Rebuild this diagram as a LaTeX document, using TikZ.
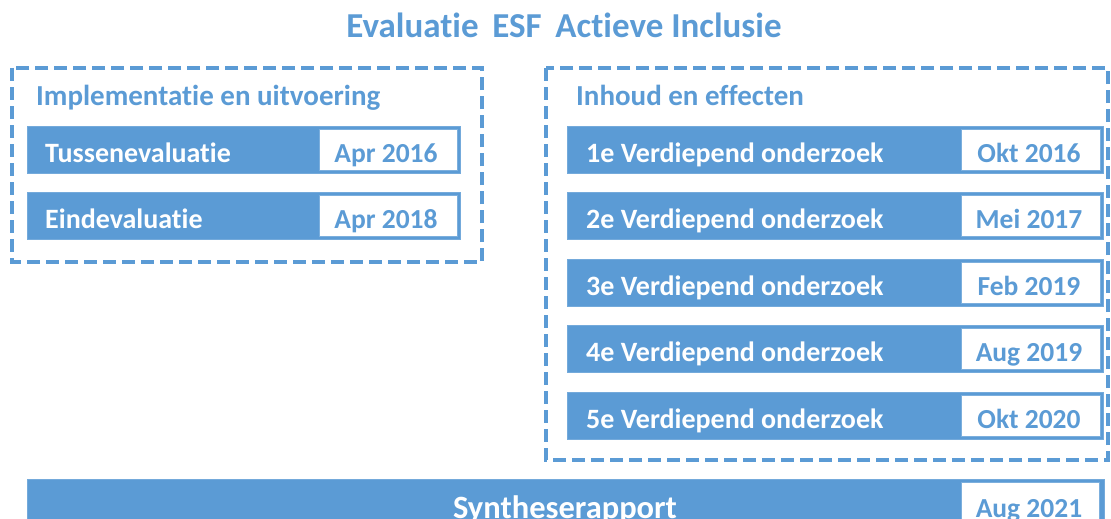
\documentclass[tikz,border=0pt]{standalone}
\usepackage{fontspec}
\setmainfont[Ligatures=NoCommon]{Carlito}
\definecolor{bl}{HTML}{5B9BD5}
\begin{document}
\begin{tikzpicture}[x=1pt,y=-1pt,
  every node/.style={font=\bfseries, inner sep=0pt},
  grp/.style={draw=bl, line width=3.5pt, dash pattern=on 13pt off 6pt},
  bar/.style={fill=bl, draw=bl!85, line width=1pt},
  datebox/.style={fill=white, draw=bl!80, line width=1pt},
  bartext/.style={text=white, font=\fontsize{28}{32}\selectfont\bfseries, anchor=base west},
  datetext/.style={text=bl, font=\fontsize{27.5}{32}\selectfont\bfseries, anchor=base},
  hdr/.style={text=bl, font=\fontsize{29}{33}\selectfont\bfseries, anchor=base west}]
\useasboundingbox (0,0) rectangle (1111,519);
\node[text=bl, font=\fontsize{35}{40}\selectfont\bfseries, anchor=base] (title) at (564,38) {Evaluatie\, ESF\, Actieve Inclusie};
% left group
\draw[grp] (12,68) rectangle (482,262);
\node[hdr] (h1) at (36,105) {Implementatie en uitvoering};
\foreach \y/\t/\d/\n in {126/Tussenevaluatie/Apr 2016/a, 192/Eindevaluatie/Apr 2018/b}{
  \draw[bar] (27,\y) rectangle (460,\y+47);
  \draw[datebox] (319,\y+3) rectangle (457,\y+44);
  \node[bartext] (l\n) at (45,\y+36) {\t};
  \node[datetext] (d\n) at (386,\y+36) {\d};
}
% right group
\draw[grp] (546,68) rectangle (1108,460);
\node[hdr] (h2) at (576,105) {Inhoud en effecten};
\foreach \y/\t/\d/\n in {126/1e/Okt 2016/c, 192.5/2e/Mei 2017/d, 259/3e/Feb 2019/e, 325.5/4e/Aug 2019/f, 392/5e/Okt 2020/g}{
  \draw[bar] (567,\y) rectangle (1103,\y+47);
  \draw[datebox] (961,\y+3) rectangle (1100,\y+44);
  \node[bartext] (l\n) at (586,\y+36) {\t\ Verdiepend onderzoek};
  \node[datetext] (d\n) at (1029,\y+36) {\d};
}
% synthese
\draw[bar] (27,479) rectangle (1104,540);
\draw[datebox] (961,482) rectangle (1099,540);
\node[text=white, font=\fontsize{32.5}{36}\selectfont\bfseries, anchor=base] (ls) at (565,518) {Syntheserapport};
\node[datetext] (ds) at (1029,517) {Aug 2021};
\end{tikzpicture}
\end{document}
